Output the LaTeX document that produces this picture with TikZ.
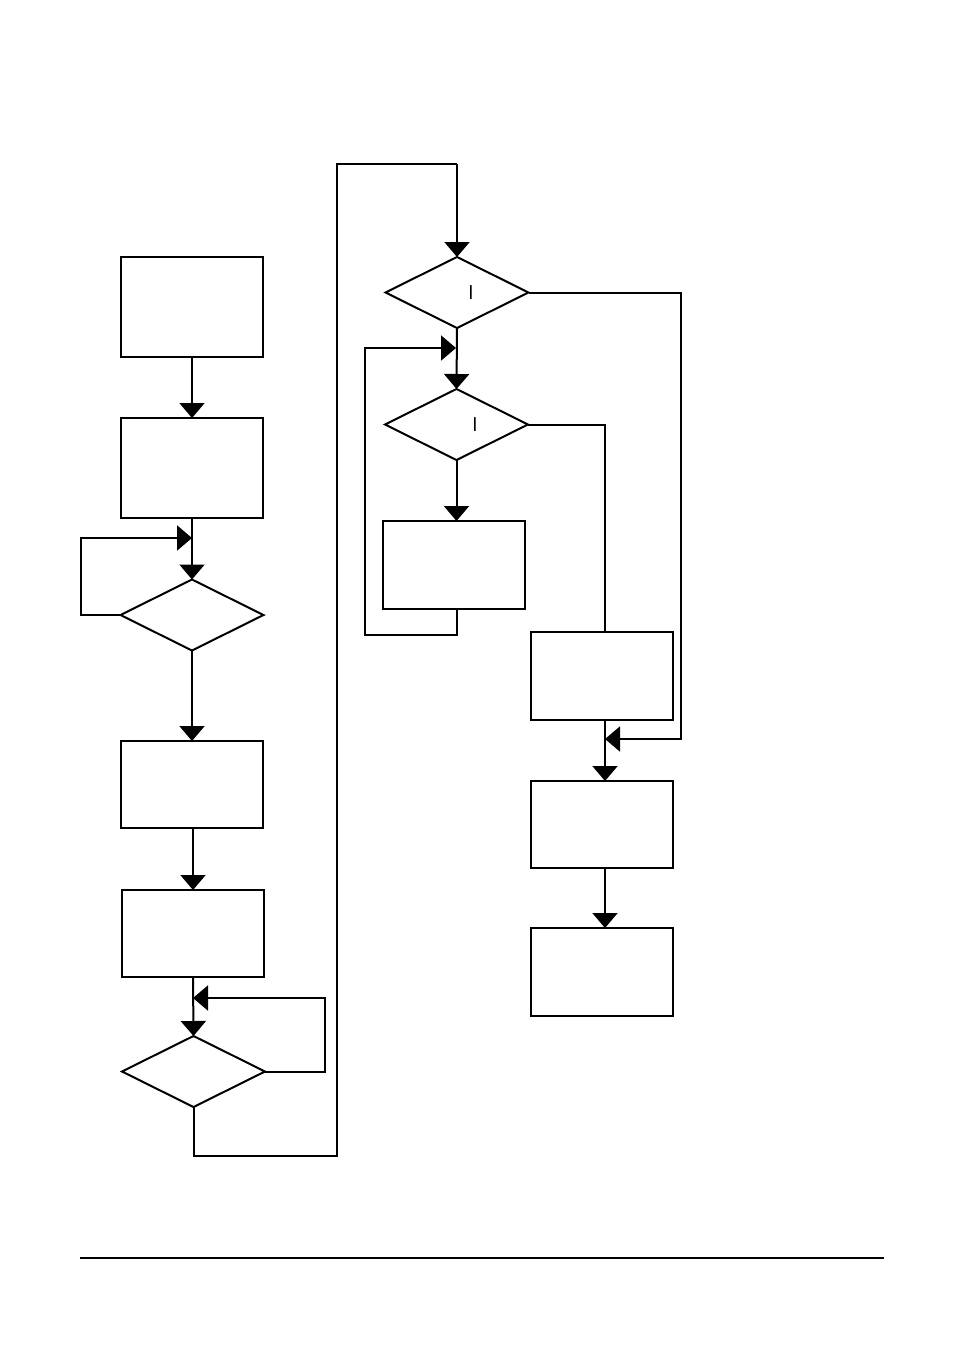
\documentclass[tikz,border=0pt]{standalone}
\usetikzlibrary{shapes.geometric,arrows.meta}
\begin{document}
\begin{tikzpicture}[x=1pt,y=-1pt,
  line width=2pt,
  box/.style={draw,rectangle,minimum width=142pt,minimum height=#1,inner sep=0pt,outer sep=0pt},
  dia/.style={draw,diamond,minimum width=143pt,minimum height=71pt,inner sep=0pt,outer sep=0pt},
  arr/.style={-{Triangle[width=25pt,length=15pt]}},
  glyph/.style={font=\sffamily\fontsize{20}{20}\selectfont,inner sep=0pt}
]
\useasboundingbox (0,0) rectangle (954,1346);
% left column
\node[box=100pt] (b1) at (192,307) {};
\node[box=100pt] (b2) at (192,468) {};
\node[dia] (d1) at (192,615) {};
\node[box=87pt] (b3) at (192,784.5) {};
\node[box=87pt] (b4) at (192.5,933.5) {};
\node[dia] (d2) at (193.5,1071.5) {};
% right columns
\node[dia] (d3) at (457,292.5) {};
\node[glyph] (t3) at (471,293) {I};
\node[dia] (d4) at (456.5,424.5) {};
\node[glyph] (t4) at (475,425) {I};
\node[box=88pt] (b5) at (453.5,565) {};
\node[box=88pt] (b6) at (601.5,676) {};
\node[box=87pt] (b7) at (601.5,824.5) {};
\node[box=88pt] (b8) at (601.5,972) {};
% join points
\coordinate (j1) at (192,538);
\coordinate (j2) at (193,998);
\coordinate (j3) at (456,348);
\coordinate (j4) at (605,739);
% connectors
\draw[arr] (b1.south) -- (b2.north);
\draw[arr] (b2.south) -- (d1.north);
\draw[arr] (d1.west) -- (81,615) |- (j1);
\draw[arr] (d1.south) -- (b3.north);
\draw[arr] (193,828) -- (b4.north -| 193,0);
\draw[arr] (b4.south -| 193,0) -- (d2.north);
\draw[arr] (d2.east) -- (325,1071.5) |- (j2);
\draw (d2.south) -- (193.5,1156) -- (337,1156) -- (337,164) -- (457,164);
\draw[arr] (457,164) -- (d3.north);
\draw[arr] (d3.south) -- (d4.north);
\draw[arr] (b5.south -| 456.5,0) -- (456.5,635) -- (365,635) |- (j3);
\draw[arr] (d4.south) -- (b5.north -| d4.south);
\draw (d4.east) -| (b6.north -| 605,0);
\draw[arr] (d3.east) -- (681,292.5) |- (j4);
\draw[arr] (b6.south -| 605,0) -- (b7.north -| 605,0);
\draw[arr] (b7.south -| 605,0) -- (b8.north -| 605,0);
% footer rule
\draw[line width=1.3pt] (80,1258) -- (884,1258);
\end{tikzpicture}
\end{document}
